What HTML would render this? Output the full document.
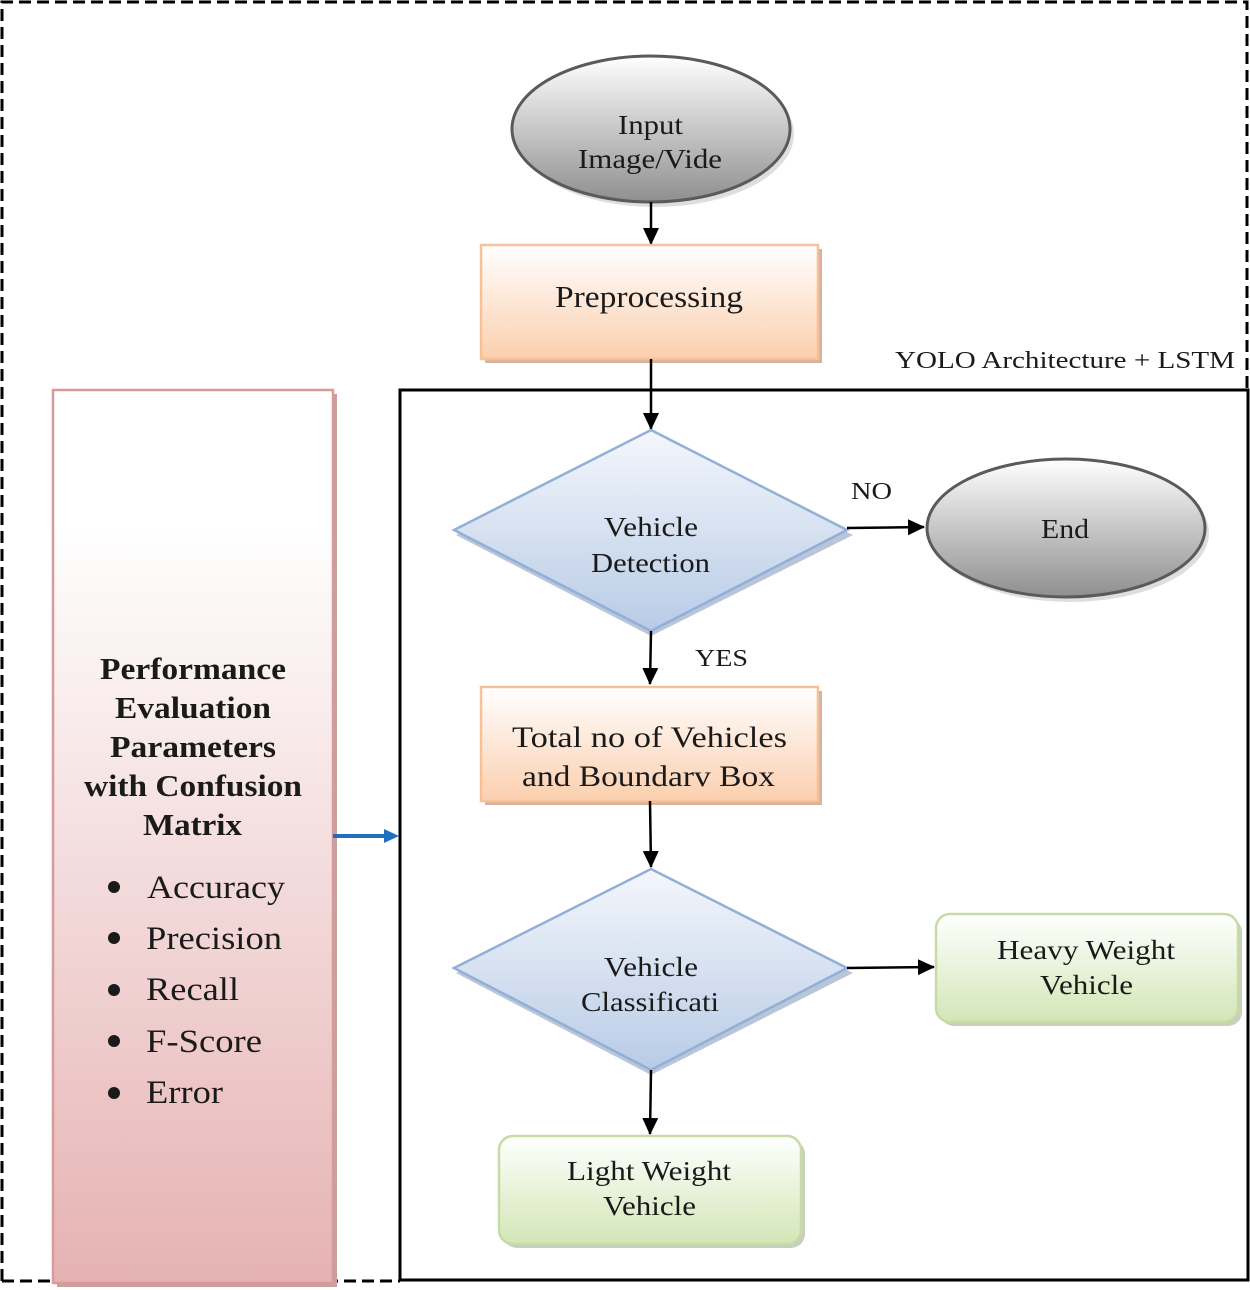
<!DOCTYPE html>
<html><head><meta charset="utf-8"><style>html,body{margin:0;padding:0;background:#fff}svg{display:block}text{font-family:"Liberation Serif",serif;fill:#1a1a1a}</style></head><body>
<svg width="1250" height="1290" viewBox="0 0 1250 1290" xmlns="http://www.w3.org/2000/svg">
<defs>
<linearGradient id="gr" x1="0" y1="0" x2="0" y2="1"><stop offset="0" stop-color="#ffffff"/><stop offset="1" stop-color="#8f8f8f"/></linearGradient>
<linearGradient id="or" x1="0" y1="0" x2="0" y2="1"><stop offset="0" stop-color="#ffffff"/><stop offset="1" stop-color="#fbcfae"/></linearGradient>
<linearGradient id="bl" x1="0" y1="0" x2="0" y2="1"><stop offset="0" stop-color="#f4f7fc"/><stop offset="1" stop-color="#b8cbe6"/></linearGradient>
<linearGradient id="gn" x1="0" y1="0" x2="0" y2="1"><stop offset="0" stop-color="#ffffff"/><stop offset="1" stop-color="#d3e6b6"/></linearGradient>
<linearGradient id="pk" x1="0" y1="0" x2="0" y2="1"><stop offset="0.15" stop-color="#ffffff"/><stop offset="1" stop-color="#e6b2b2"/></linearGradient>
<marker id="ar" markerWidth="18" markerHeight="18" refX="16" refY="8" orient="auto" markerUnits="userSpaceOnUse"><path d="M0,0 L17,8 L0,16 z" fill="#000"/></marker>
</defs>
<path d="M2,1281 L2,2 L1247,2 L1247,390" fill="none" stroke="#000" stroke-width="3" stroke-dasharray="12,6"/>
<path d="M2,1281 L400,1281" fill="none" stroke="#000" stroke-width="3" stroke-dasharray="12,6"/>
<rect x="400" y="390" width="848" height="890" fill="none" stroke="#000" stroke-width="3"/>
<text x="895" y="368" font-size="24" textLength="340" lengthAdjust="spacingAndGlyphs">YOLO Architecture + LSTM</text>
<ellipse cx="655" cy="134" rx="139" ry="73" fill="#c8c8c8" opacity="0.6"/>
<ellipse cx="651" cy="129" rx="139" ry="73" fill="url(#gr)" stroke="#5a5a5a" stroke-width="3"/>
<text x="618" y="134" font-size="27" textLength="65" lengthAdjust="spacingAndGlyphs">Input</text>
<text x="578" y="168" font-size="27" textLength="144" lengthAdjust="spacingAndGlyphs">Image/Vide</text>
<line x1="651" y1="202" x2="651" y2="244" stroke="#000" stroke-width="2.5" marker-end="url(#ar)"/>
<rect x="485" y="249" width="337" height="114" fill="#d4b4a0"/>
<rect x="481" y="245" width="337" height="114" fill="url(#or)" stroke="#f9bf95" stroke-width="2.5"/>
<text x="555" y="307" font-size="31" textLength="188" lengthAdjust="spacingAndGlyphs">Preprocessing</text>
<line x1="651" y1="359" x2="651" y2="429" stroke="#000" stroke-width="2.5" marker-end="url(#ar)"/>
<polygon points="651,435 853,535 651,636 456,535" fill="#8aa0c0" opacity="0.6"/>
<polygon points="651,430 847,530 651,631 454,530" fill="url(#bl)" stroke="#92afd8" stroke-width="2.5"/>
<text x="604" y="536" font-size="27" textLength="94" lengthAdjust="spacingAndGlyphs">Vehicle</text>
<text x="591" y="572" font-size="27" textLength="119" lengthAdjust="spacingAndGlyphs">Detection</text>
<line x1="847" y1="528" x2="924" y2="527" stroke="#000" stroke-width="2.5" marker-end="url(#ar)"/>
<text x="851" y="499" font-size="24" textLength="41" lengthAdjust="spacingAndGlyphs">NO</text>
<ellipse cx="1070" cy="533" rx="139" ry="69" fill="#c8c8c8" opacity="0.6"/>
<ellipse cx="1066" cy="528" rx="139" ry="69" fill="url(#gr)" stroke="#5a5a5a" stroke-width="3"/>
<text x="1041" y="538" font-size="27" textLength="48" lengthAdjust="spacingAndGlyphs">End</text>
<line x1="651" y1="631" x2="650" y2="684" stroke="#000" stroke-width="2.5" marker-end="url(#ar)"/>
<text x="695" y="666" font-size="24" textLength="53" lengthAdjust="spacingAndGlyphs">YES</text>
<rect x="485" y="691" width="337" height="114" fill="#d4b4a0"/>
<rect x="481" y="687" width="337" height="114" fill="url(#or)" stroke="#f9bf95" stroke-width="2.5"/>
<text x="512" y="747" font-size="30" textLength="275" lengthAdjust="spacingAndGlyphs">Total no of Vehicles</text>
<text x="522" y="786" font-size="30" textLength="253" lengthAdjust="spacingAndGlyphs">and Boundarv Box</text>
<line x1="650" y1="801" x2="651" y2="867" stroke="#000" stroke-width="2.5" marker-end="url(#ar)"/>
<polygon points="651,874 853,973 651,1075 456,973" fill="#8aa0c0" opacity="0.6"/>
<polygon points="651,869 847,968 651,1070 454,968" fill="url(#bl)" stroke="#92afd8" stroke-width="2.5"/>
<text x="604" y="976" font-size="27" textLength="94" lengthAdjust="spacingAndGlyphs">Vehicle</text>
<text x="581" y="1011" font-size="27" textLength="138" lengthAdjust="spacingAndGlyphs">Classificati</text>
<line x1="847" y1="968" x2="934" y2="967" stroke="#000" stroke-width="2.5" marker-end="url(#ar)"/>
<line x1="651" y1="1070" x2="650" y2="1134" stroke="#000" stroke-width="2.5" marker-end="url(#ar)"/>
<rect x="940" y="918" width="302" height="108" rx="14" fill="#c8cfbf"/>
<rect x="936" y="914" width="302" height="108" rx="14" fill="url(#gn)" stroke="#c6dca4" stroke-width="2.5"/>
<text x="997" y="959" font-size="27" textLength="178" lengthAdjust="spacingAndGlyphs">Heavy Weight</text>
<text x="1040" y="994" font-size="27" textLength="93" lengthAdjust="spacingAndGlyphs">Vehicle</text>
<rect x="503" y="1140" width="302" height="108" rx="14" fill="#c8cfbf"/>
<rect x="499" y="1136" width="302" height="108" rx="14" fill="url(#gn)" stroke="#c6dca4" stroke-width="2.5"/>
<text x="567" y="1180" font-size="27" textLength="164" lengthAdjust="spacingAndGlyphs">Light Weight</text>
<text x="603" y="1215" font-size="27" textLength="93" lengthAdjust="spacingAndGlyphs">Vehicle</text>
<rect x="57" y="394" width="280" height="893" fill="#c7a0a0"/>
<rect x="53" y="390" width="280" height="893" fill="url(#pk)" stroke="#d89a9a" stroke-width="2.5"/>
<g font-size="31" font-weight="bold">
<text x="100" y="679" textLength="186" lengthAdjust="spacingAndGlyphs">Performance</text>
<text x="115" y="718" textLength="156" lengthAdjust="spacingAndGlyphs">Evaluation</text>
<text x="110" y="757" textLength="166" lengthAdjust="spacingAndGlyphs">Parameters</text>
<text x="84" y="796" textLength="218" lengthAdjust="spacingAndGlyphs">with Confusion</text>
<text x="143" y="835" textLength="99" lengthAdjust="spacingAndGlyphs">Matrix</text>
</g>
<g font-size="33">
<circle cx="114" cy="887" r="6" fill="#1a1a1a"/><text x="147" y="898" textLength="138" lengthAdjust="spacingAndGlyphs">Accuracy</text>
<circle cx="114" cy="938" r="6" fill="#1a1a1a"/><text x="146" y="949" textLength="136" lengthAdjust="spacingAndGlyphs">Precision</text>
<circle cx="114" cy="990" r="6" fill="#1a1a1a"/><text x="146" y="1000" textLength="93" lengthAdjust="spacingAndGlyphs">Recall</text>
<circle cx="114" cy="1041" r="6" fill="#1a1a1a"/><text x="146" y="1052" textLength="116" lengthAdjust="spacingAndGlyphs">F-Score</text>
<circle cx="114" cy="1093" r="6" fill="#1a1a1a"/><text x="146" y="1103" textLength="77" lengthAdjust="spacingAndGlyphs">Error</text>
</g>
<line x1="333" y1="836" x2="386" y2="836" stroke="#1f6fc0" stroke-width="4"/>
<path d="M384,829 L399,836 L384,843 z" fill="#1f6fc0"/>
</svg>
</body></html>
